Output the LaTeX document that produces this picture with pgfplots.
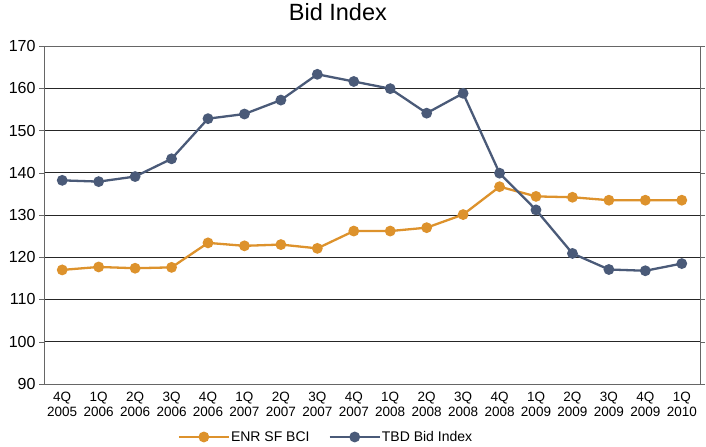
\documentclass[border=0pt]{standalone}
\usepackage{pgfplots}
\pgfplotsset{compat=1.18}
\usepackage{fontspec}
\setmainfont{Liberation Sans}
\definecolor{enr}{HTML}{DD922C}
\definecolor{tbd}{HTML}{4A5A78}
\begin{document}
\begin{tikzpicture}
\begin{axis}[
  scale only axis,
  width=656pt, height=338pt,
  xmin=-0.5, xmax=17.5,
  ymin=90, ymax=170,
  ytick={90,100,...,170},
  xtick={0,...,17},
  xticklabels={{4Q\\2005},{1Q\\2006},{2Q\\2006},{3Q\\2006},{4Q\\2006},{1Q\\2007},{2Q\\2007},{3Q\\2007},{4Q\\2007},{1Q\\2008},{2Q\\2008},{3Q\\2008},{4Q\\2008},{1Q\\2009},{2Q\\2009},{3Q\\2009},{4Q\\2009},{1Q\\2010}},
  xticklabel style={align=center, font=\fontsize{13.5}{15}\selectfont},
  yticklabel style={font=\fontsize{16}{18}\selectfont},
  /pgf/number format/assume math mode=true,
  major x tick style={draw=none},
  ytick style={gray!80!black},
  tick align=outside,
  major tick length=5pt,
  ymajorgrids,
  grid style={black!85, line width=0.7pt},
  axis line style={gray!80!black, line width=0.8pt},
  title={Bid Index},
  title style={font=\fontsize{23.5}{26}\selectfont, at={(0.448,1)}, anchor=base, yshift=19pt},
  legend style={at={(0.429,0)}, anchor=center, yshift=-53pt, draw=none, legend columns=2,
    font=\fontsize{14}{16}\selectfont,
    nodes={inner xsep=1pt},
    /tikz/every even column/.append style={column sep=18pt}},
  legend image code/.code={
    \draw[#1, line width=2.3pt] (0pt,0pt) -- (50pt,0pt);
    \fill[#1] (25pt,0pt) circle (4.2pt);},
]
\addplot[enr, line width=2.3pt, mark=*, mark size=4.2pt] coordinates {
(0,117.0) (1,117.7) (2,117.4) (3,117.6) (4,123.4) (5,122.7) (6,123.0) (7,122.1) (8,126.2) (9,126.2) (10,127.0) (11,130.1) (12,136.7) (13,134.4) (14,134.2) (15,133.5) (16,133.5) (17,133.5)};
\addlegendentry{ENR SF BCI}
\addplot[tbd, line width=2.3pt, mark=*, mark size=4.2pt] coordinates {
(0,138.2) (1,137.9) (2,139.1) (3,143.3) (4,152.8) (5,153.9) (6,157.2) (7,163.3) (8,161.6) (9,159.9) (10,154.1) (11,158.8) (12,139.9) (13,131.2) (14,120.9) (15,117.1) (16,116.8) (17,118.5)};
\addlegendentry{TBD Bid Index}
\end{axis}
\path ([xshift=-44pt,yshift=46pt]current axis.north west) ([xshift=6pt,yshift=-62pt]current axis.south east);
\end{tikzpicture}
\end{document}
